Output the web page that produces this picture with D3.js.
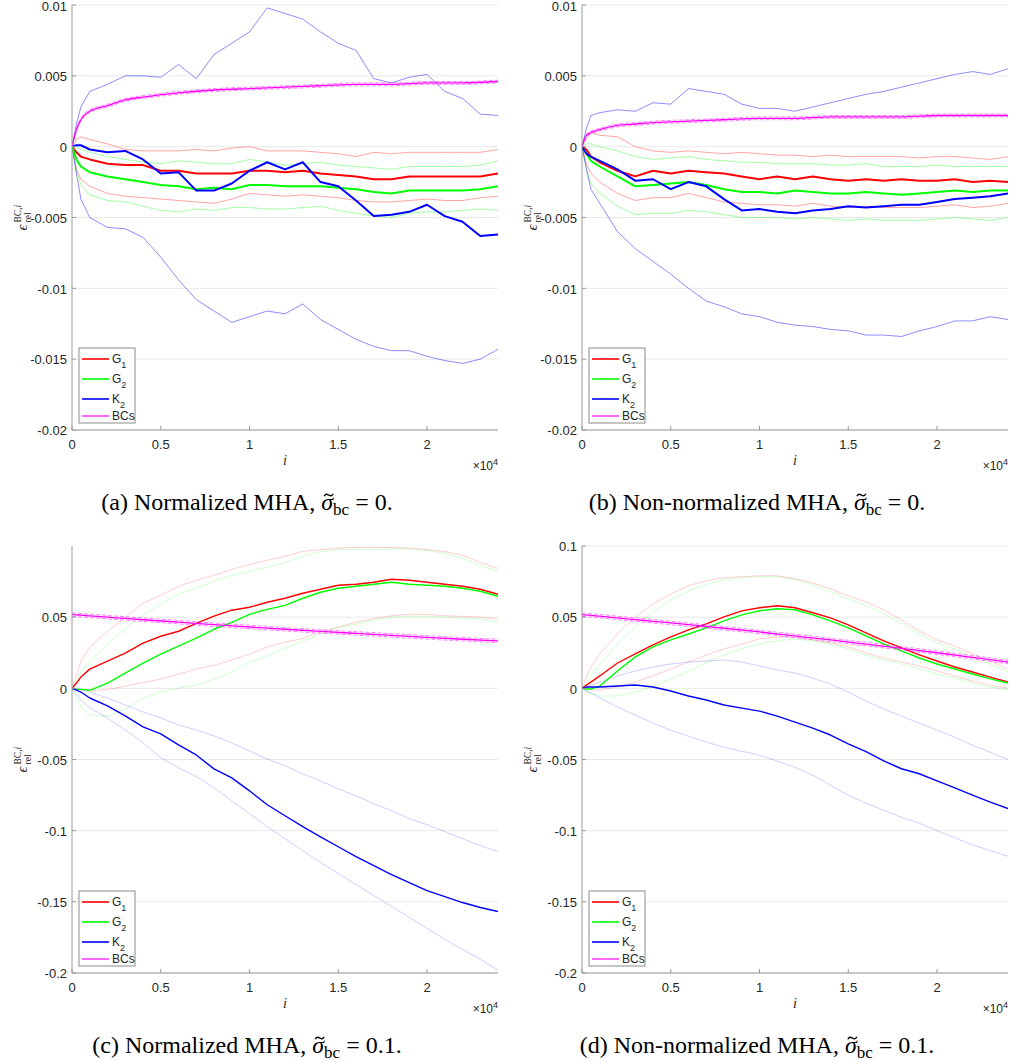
<!DOCTYPE html>
<html><head><meta charset="utf-8">
<script src="https://cdn.jsdelivr.net/npm/d3@7"></script>
<style>body{margin:0;background:#fff;} svg{display:block;}</style>
</head><body>
<svg id="chart" width="1011" height="1061"></svg>
<script>
// ---------- shared axes data ----------
const iSteps = [0,250,500,1000,2000,3000,4000,5000,6000,7000,8000,9000,10000,11000,12000,13000,14000,15000,16000,17000,18000,19000,20000,21000,22000,23000,24000];
const bcSteps = [0,250,500,1000,2000,3000,4000,6000,8000,10000,12000,14000,16000,18000,20000,22000,24000];
const xTicks = [0,5000,10000,15000,20000];
const xTickLabels = ["0","0.5","1","1.5","2"];
const yTicksSmall = [-0.02,-0.015,-0.01,-0.005,0,0.005,0.01];
const yTickLabelsSmall = ["-0.02","-0.015","-0.01","-0.005","0","0.005","0.01"];
const yTicksC = [-0.2,-0.15,-0.1,-0.05,0,0.05];
const yTickLabelsC = ["-0.2","-0.15","-0.1","-0.05","0","0.05"];
const yTicksD = [-0.2,-0.15,-0.1,-0.05,0,0.05,0.1];
const yTickLabelsD = ["-0.2","-0.15","-0.1","-0.05","0","0.05","0.1"];
const legendNames = [["G","1"],["G","2"],["K","2"],["BCs",""]];
const captions = [
  ["(a) Normalized MHA, ","0."],
  ["(b) Non-normalized MHA, ","0."],
  ["(c) Normalized MHA, ","0.1."],
  ["(d) Non-normalized MHA, ","0.1."]
];

// ---------- panel (a) ----------
const aG1   = [0,-0.0004,-0.0007,-0.0009,-0.0012,-0.0013,-0.0013,-0.0017,-0.0017,-0.0019,-0.0019,-0.0019,-0.0017,-0.0017,-0.0018,-0.0017,-0.0019,-0.0020,-0.0021,-0.0023,-0.0023,-0.0021,-0.0021,-0.0021,-0.0021,-0.0021,-0.0019];
const aG1hi = [0,0.0005,0.0007,0.0005,0.0002,-0.0002,-0.0003,-0.0003,-0.0003,-0.0002,-0.0003,-0.0001,0,-0.0003,-0.0003,-0.0003,-0.0004,-0.0005,-0.0007,-0.0004,-0.0005,-0.0004,-0.0004,-0.0004,-0.0004,-0.0004,-0.0002];
const aG1lo = [0,-0.0016,-0.0023,-0.0028,-0.0033,-0.0035,-0.0036,-0.0037,-0.0038,-0.0039,-0.0040,-0.0037,-0.0033,-0.0034,-0.0035,-0.0034,-0.0035,-0.0036,-0.0038,-0.0039,-0.0039,-0.0038,-0.0037,-0.0038,-0.0038,-0.0036,-0.0035];
const aG2   = [0,-0.0009,-0.0014,-0.0018,-0.0021,-0.0023,-0.0025,-0.0027,-0.0028,-0.0030,-0.0029,-0.0030,-0.0027,-0.0027,-0.0028,-0.0028,-0.0028,-0.0029,-0.0030,-0.0032,-0.0033,-0.0031,-0.0031,-0.0031,-0.0031,-0.0030,-0.0028];
const aG2hi = [0,0,-0.0002,-0.0004,-0.0007,-0.0009,-0.0011,-0.0012,-0.0010,-0.0011,-0.0012,-0.0012,-0.0009,-0.0011,-0.0013,-0.0012,-0.0011,-0.0013,-0.0014,-0.0015,-0.0016,-0.0014,-0.0014,-0.0014,-0.0014,-0.0013,-0.0010];
const aG2lo = [0,-0.0017,-0.0027,-0.0034,-0.0038,-0.0039,-0.0042,-0.0045,-0.0046,-0.0044,-0.0045,-0.0043,-0.0043,-0.0044,-0.0044,-0.0043,-0.0042,-0.0045,-0.0047,-0.0049,-0.0050,-0.0047,-0.0046,-0.0046,-0.0045,-0.0044,-0.0045];
const aK2   = [0,0.0001,0.0001,-0.0002,-0.0004,-0.0003,-0.0009,-0.0019,-0.0018,-0.0031,-0.0031,-0.0026,-0.0017,-0.0011,-0.0016,-0.0011,-0.0025,-0.0028,-0.0038,-0.0049,-0.0048,-0.0046,-0.0041,-0.0049,-0.0053,-0.0063,-0.0062];
const aK2hi = [0,0.0016,0.0028,0.0039,0.0044,0.0050,0.0050,0.0049,0.0058,0.0048,0.0065,0.0073,0.0081,0.0098,0.0094,0.0090,0.0081,0.0073,0.0068,0.0048,0.0045,0.0049,0.0051,0.0039,0.0034,0.0023,0.0022];
const aK2lo = [0,-0.0019,-0.0037,-0.0050,-0.0057,-0.0058,-0.0064,-0.0078,-0.0094,-0.0108,-0.0116,-0.0124,-0.0120,-0.0116,-0.0118,-0.0111,-0.0122,-0.0129,-0.0136,-0.0141,-0.0144,-0.0144,-0.0148,-0.0151,-0.0153,-0.0150,-0.0143];
const aBC   = [0,0.0012,0.0019,0.0025,0.0029,0.0033,0.0035,0.0038,0.0040,0.0041,0.0042,0.0043,0.0044,0.0044,0.0045,0.0045,0.0046];
const aBChi = [0,0.0013,0.0020,0.0026,0.0030,0.0034,0.0036,0.0039,0.0041,0.0042,0.0043,0.0044,0.0045,0.0045,0.0046,0.0046,0.0047];
const aBClo = [0,0.0011,0.0018,0.0024,0.0028,0.0032,0.0034,0.0037,0.0039,0.0040,0.0041,0.0042,0.0043,0.0043,0.0044,0.0044,0.0045];

// ---------- panel (b) ----------
const bG1   = [0,-0.0002,-0.0007,-0.0011,-0.0017,-0.0021,-0.0017,-0.0019,-0.0017,-0.0018,-0.0019,-0.0021,-0.0023,-0.0021,-0.0023,-0.0021,-0.0023,-0.0024,-0.0023,-0.0024,-0.0023,-0.0024,-0.0024,-0.0023,-0.0025,-0.0024,-0.0025];
const bG1hi = [0,0.0005,0.0010,0.0008,0.0007,0,-0.0003,-0.0004,-0.0003,-0.0004,-0.0005,-0.0004,-0.0005,-0.0006,-0.0006,-0.0007,-0.0006,-0.0007,-0.0007,-0.0007,-0.0007,-0.0008,-0.0007,-0.0007,-0.0008,-0.0009,-0.0007];
const bG1lo = [0,-0.0012,-0.0019,-0.0025,-0.0033,-0.0038,-0.0036,-0.0036,-0.0033,-0.0036,-0.0039,-0.0040,-0.0041,-0.0041,-0.0042,-0.0040,-0.0042,-0.0043,-0.0042,-0.0043,-0.0043,-0.0043,-0.0042,-0.0041,-0.0043,-0.0042,-0.0040];
const bG2   = [0,-0.0005,-0.0010,-0.0014,-0.0021,-0.0028,-0.0027,-0.0026,-0.0025,-0.0027,-0.0030,-0.0032,-0.0032,-0.0033,-0.0031,-0.0032,-0.0033,-0.0033,-0.0032,-0.0033,-0.0034,-0.0033,-0.0032,-0.0031,-0.0032,-0.0031,-0.0031];
const bG2hi = [0,0.0002,0.0002,0,-0.0003,-0.0007,-0.0009,-0.0008,-0.0007,-0.0009,-0.0010,-0.0011,-0.0011,-0.0012,-0.0012,-0.0012,-0.0013,-0.0013,-0.0012,-0.0014,-0.0014,-0.0014,-0.0013,-0.0014,-0.0014,-0.0014,-0.0014];
const bG2lo = [0,-0.0016,-0.0026,-0.0033,-0.0042,-0.0048,-0.0047,-0.0047,-0.0045,-0.0046,-0.0048,-0.0050,-0.0050,-0.0050,-0.0051,-0.0050,-0.0051,-0.0052,-0.0051,-0.0052,-0.0052,-0.0052,-0.0051,-0.0050,-0.0051,-0.0052,-0.0050];
const bK2   = [0,-0.0005,-0.0007,-0.0010,-0.0016,-0.0024,-0.0023,-0.0030,-0.0025,-0.0028,-0.0037,-0.0045,-0.0044,-0.0046,-0.0047,-0.0045,-0.0044,-0.0042,-0.0043,-0.0042,-0.0041,-0.0041,-0.0039,-0.0037,-0.0036,-0.0035,-0.0033];
const bK2hi = [0,0.0013,0.0022,0.0024,0.0026,0.0025,0.0031,0.0030,0.0041,0.0039,0.0037,0.0030,0.0027,0.0027,0.0025,0.0028,0.0031,0.0034,0.0037,0.0039,0.0042,0.0045,0.0048,0.0051,0.0053,0.0051,0.0055];
const bK2lo = [0,-0.0016,-0.0030,-0.0040,-0.0060,-0.0072,-0.0081,-0.0090,-0.0100,-0.0109,-0.0113,-0.0118,-0.0120,-0.0124,-0.0126,-0.0127,-0.0129,-0.0130,-0.0133,-0.0133,-0.0134,-0.0130,-0.0127,-0.0123,-0.0123,-0.0120,-0.0122];
const bBC   = [0,0.0008,0.0010,0.0012,0.0015,0.0016,0.0017,0.0018,0.0019,0.0020,0.0020,0.0021,0.0021,0.0021,0.0022,0.0022,0.0022];
const bBChi = [0,0.0009,0.0011,0.0013,0.0016,0.0017,0.0018,0.0019,0.0020,0.0021,0.0021,0.0022,0.0022,0.0022,0.0023,0.0023,0.0023];
const bBClo = [0,0.0007,0.0009,0.0011,0.0014,0.0015,0.0016,0.0017,0.0018,0.0019,0.0019,0.0020,0.0020,0.0020,0.0021,0.0021,0.0021];

// ---------- panel (c) ----------
const cG1   = [0,0.0037,0.0079,0.0135,0.0191,0.0247,0.0317,0.0366,0.0401,0.0457,0.0507,0.0549,0.0570,0.0605,0.0633,0.0668,0.0696,0.0724,0.0731,0.0745,0.0766,0.0759,0.0745,0.0731,0.0717,0.0696,0.0661];
const cG1hi = [0,0.0100,0.0191,0.0289,0.0401,0.0500,0.0598,0.0654,0.0717,0.0759,0.0794,0.0836,0.0871,0.0899,0.0927,0.0962,0.0975,0.0985,0.0990,0.0990,0.0990,0.0985,0.0975,0.0960,0.0934,0.0885,0.0843];
const cG1lo = [0,-0.0005,-0.0010,-0.0015,-0.0010,0.0016,0.0040,0.0065,0.0100,0.0135,0.0163,0.0198,0.0240,0.0290,0.0325,0.0350,0.0395,0.0430,0.0465,0.0490,0.0510,0.0520,0.0520,0.0510,0.0505,0.0500,0.0486];
const cG2   = [0,-0.0007,-0.0007,-0.0014,0.0037,0.0107,0.0177,0.0240,0.0296,0.0352,0.0415,0.0464,0.0520,0.0555,0.0583,0.0633,0.0675,0.0703,0.0717,0.0731,0.0745,0.0731,0.0724,0.0717,0.0703,0.0682,0.0647];
const cG2hi = [0,0.0051,0.0114,0.0191,0.0311,0.0416,0.0514,0.0591,0.0661,0.0703,0.0752,0.0794,0.0822,0.0850,0.0885,0.0927,0.0962,0.0975,0.0978,0.0976,0.0980,0.0980,0.0969,0.0948,0.0913,0.0864,0.0822];
const cG2lo = [0,-0.0063,-0.0133,-0.0189,-0.0196,-0.0147,-0.0070,-0.0026,0.0002,0.0023,0.0065,0.0114,0.0184,0.0226,0.0282,0.0331,0.0381,0.0430,0.0451,0.0479,0.0500,0.0507,0.0507,0.0500,0.0493,0.0486,0.0465];
const cK2   = [0,-0.0012,-0.0026,-0.0068,-0.0124,-0.0194,-0.0271,-0.0320,-0.0397,-0.0468,-0.0566,-0.0629,-0.0720,-0.0818,-0.0895,-0.0972,-0.1043,-0.1113,-0.1183,-0.1246,-0.1309,-0.1365,-0.1421,-0.1463,-0.1505,-0.1540,-0.1568];
const cK2hi = [0,0,-0.0005,-0.0026,-0.0068,-0.0117,-0.0166,-0.0208,-0.0257,-0.0292,-0.0334,-0.0383,-0.0440,-0.0496,-0.0545,-0.0601,-0.0650,-0.0706,-0.0755,-0.0811,-0.0860,-0.0916,-0.0958,-0.1007,-0.1056,-0.1105,-0.1147];
const cK2lo = [0,-0.0040,-0.0082,-0.0138,-0.0208,-0.0292,-0.0383,-0.0488,-0.0558,-0.0621,-0.0698,-0.0790,-0.0881,-0.0972,-0.1056,-0.1140,-0.1224,-0.1301,-0.1378,-0.1455,-0.1532,-0.1609,-0.1686,-0.1763,-0.1834,-0.1904,-0.1981];
const cBC   = [0.0518,0.0516,0.0514,0.0509,0.0500,0.0491,0.0482,0.0465,0.0447,0.0431,0.0415,0.0400,0.0386,0.0372,0.0358,0.0345,0.0333];
const cBChi = [0.0530,0.0528,0.0526,0.0521,0.0512,0.0503,0.0494,0.0477,0.0459,0.0443,0.0427,0.0412,0.0398,0.0384,0.0370,0.0357,0.0345];
const cBClo = [0.0506,0.0504,0.0502,0.0497,0.0488,0.0479,0.0470,0.0453,0.0435,0.0419,0.0403,0.0388,0.0374,0.0360,0.0346,0.0333,0.0321];

// ---------- panel (d) ----------
const dG1   = [0,0.0023,0.0044,0.0087,0.0178,0.0242,0.0305,0.0361,0.0411,0.0453,0.0502,0.0544,0.0566,0.0580,0.0566,0.0531,0.0495,0.0446,0.0390,0.0333,0.0284,0.0235,0.0192,0.0150,0.0115,0.0079,0.0044];
const dG1hi = [0,0.0079,0.0150,0.0242,0.0383,0.0502,0.0594,0.0664,0.0721,0.0756,0.0777,0.0784,0.0791,0.0791,0.0770,0.0741,0.0699,0.0650,0.0608,0.0551,0.0481,0.0403,0.0340,0.0298,0.0242,0.0192,0.0136];
const dG1lo = [0,-0.0005,-0.0012,-0.0012,0.0009,0.0044,0.0087,0.0136,0.0185,0.0234,0.0277,0.0312,0.0347,0.0361,0.0361,0.0340,0.0319,0.0291,0.0249,0.0213,0.0185,0.0157,0.0122,0.0087,0.0051,0.0023,0];
const dG2   = [0,-0.0005,-0.0005,0.0016,0.0122,0.0221,0.0291,0.0340,0.0382,0.0425,0.0474,0.0516,0.0545,0.0559,0.0552,0.0516,0.0474,0.0425,0.0368,0.0312,0.0263,0.0213,0.0171,0.0136,0.0101,0.0066,0.0037];
const dG2hi = [0,0.0037,0.0086,0.0164,0.0312,0.0432,0.0537,0.0622,0.0685,0.0728,0.0763,0.0777,0.0784,0.0784,0.0763,0.0728,0.0678,0.0629,0.0580,0.0523,0.0460,0.0382,0.0319,0.0277,0.0221,0.0171,0.0114];
const dG2lo = [0,-0.0019,-0.0033,-0.0054,-0.0054,-0.0026,0.0016,0.0065,0.0122,0.0178,0.0234,0.0277,0.0312,0.0333,0.0347,0.0333,0.0312,0.0277,0.0234,0.0199,0.0171,0.0136,0.0101,0.0072,0.0037,0.0009,-0.0012];
const dK2   = [0,0.0009,0.0009,0.0009,0.0016,0.0023,0.0009,-0.0019,-0.0054,-0.0082,-0.0117,-0.0139,-0.0160,-0.0195,-0.0237,-0.0279,-0.0328,-0.0390,-0.0445,-0.0510,-0.0565,-0.0600,-0.0650,-0.0700,-0.0750,-0.0800,-0.0845];
const dK2hi = [0,0.0009,0.0023,0.0044,0.0087,0.0122,0.0150,0.0171,0.0185,0.0192,0.0199,0.0185,0.0157,0.0129,0.0108,0.0072,0.0030,-0.0026,-0.0089,-0.0146,-0.0195,-0.0244,-0.0294,-0.0343,-0.0400,-0.0450,-0.0500];
const dK2lo = [0,-0.0019,-0.0033,-0.0068,-0.0132,-0.0188,-0.0244,-0.0294,-0.0336,-0.0378,-0.0413,-0.0442,-0.0470,-0.0512,-0.0554,-0.0610,-0.0681,-0.0751,-0.0807,-0.0857,-0.0906,-0.0948,-0.1000,-0.1050,-0.1100,-0.1140,-0.1180];
const dBC   = [0.0518,0.0515,0.0512,0.0507,0.0495,0.0483,0.0471,0.0447,0.0422,0.0396,0.0368,0.0340,0.0311,0.0281,0.0250,0.0218,0.0185];
const dBChi = [0.0530,0.0527,0.0524,0.0519,0.0507,0.0495,0.0483,0.0459,0.0434,0.0408,0.0380,0.0352,0.0323,0.0293,0.0262,0.0230,0.0197];
const dBClo = [0.0506,0.0503,0.0500,0.0495,0.0483,0.0471,0.0459,0.0435,0.0410,0.0384,0.0356,0.0328,0.0299,0.0269,0.0238,0.0206,0.0173];

// ---------- layout ----------
const COLORS = {G1:"#ff0000", G2:"#00ff00", K2:"#0000ff", BC:"#ff00ff"};
const panels = [
  {left:72,  top:5,   bottom:430, yDom:[-0.02,0.01], yT:yTicksSmall, yL:yTickLabelsSmall, light:false,
   G1:[aG1,aG1hi,aG1lo], G2:[aG2,aG2hi,aG2lo], K2:[aK2,aK2hi,aK2lo], BC:[aBC,aBChi,aBClo], capX:247},
  {left:582, top:5,   bottom:430, yDom:[-0.02,0.01], yT:yTicksSmall, yL:yTickLabelsSmall, light:false,
   G1:[bG1,bG1hi,bG1lo], G2:[bG2,bG2hi,bG2lo], K2:[bK2,bK2hi,bK2lo], BC:[bBC,bBChi,bBClo], capX:757},
  {left:72,  top:546, bottom:973, yDom:[-0.2,0.1], yT:yTicksC, yL:yTickLabelsC, light:true,
   G1:[cG1,cG1hi,cG1lo], G2:[cG2,cG2hi,cG2lo], K2:[cK2,cK2hi,cK2lo], BC:[cBC,cBChi,cBClo], capX:247},
  {left:582, top:546, bottom:973, yDom:[-0.2,0.1], yT:yTicksD, yL:yTickLabelsD, light:true,
   G1:[dG1,dG1hi,dG1lo], G2:[dG2,dG2hi,dG2lo], K2:[dK2,dK2hi,dK2lo], BC:[dBC,dBChi,dBClo], capX:757}
];
const W = 426;
const svg = d3.select("#chart");
const defs = svg.append("defs");
const AX = "#9a9a9a", TXT = "#262626";
const sans = "'Liberation Sans', Arial, sans-serif";
const serif = "'Liberation Serif', 'Times New Roman', serif";

panels.forEach((p, pi) => {
  const x = d3.scaleLinear().domain([0, 24000]).range([p.left, p.left + W]);
  const y = d3.scaleLinear().domain(p.yDom).range([p.bottom, p.top]);
  const g = svg.append("g");
  const cid = "clip" + pi;
  defs.append("clipPath").attr("id", cid).append("rect")
    .attr("x", p.left).attr("y", p.top).attr("width", W).attr("height", p.bottom - p.top);

  // grid
  g.append("g").selectAll("line").data(p.yT).join("line")
    .attr("x1", p.left).attr("x2", p.left + W)
    .attr("y1", d => y(d)).attr("y2", d => y(d))
    .attr("stroke", "#e9e9e9").attr("stroke-width", 1);

  const plot = g.append("g").attr("clip-path", `url(#${cid})`);
  const line = d3.line().x((d, k) => x(iSteps[k])).y(d => y(d));
  const bcLine = d3.line().x((d, k) => x(bcSteps[k])).y(d => y(d)).curve(d3.curveMonotoneX);
  const boundOp = p.light ? 0.22 : 0.4;
  const boundOpK = p.light ? 0.22 : 0.5;
  const meanW = p.light ? 1.4 : 2;
  // bounds
  [["G1", boundOp], ["G2", boundOp], ["K2", boundOpK]].forEach(([k, op]) => {
    [1, 2].forEach(j => {
      plot.append("path").attr("d", line(p[k][j])).attr("fill", "none")
        .attr("stroke", COLORS[k]).attr("stroke-opacity", op).attr("stroke-width", 0.9)
        .attr("stroke-linejoin", "round");
    });
  });
  // means
  ["G1", "G2", "K2"].forEach(k => {
    plot.append("path").attr("d", line(p[k][0])).attr("fill", "none")
      .attr("stroke", COLORS[k]).attr("stroke-width", meanW).attr("stroke-linejoin", "round");
  });
  // BCs
  [1, 2].forEach(j => {
    plot.append("path").attr("d", bcLine(p.BC[j])).attr("fill", "none")
      .attr("stroke", COLORS.BC).attr("stroke-opacity", 0.55).attr("stroke-width", 0.9)
      .attr("stroke-dasharray", "4,2");
  });
  plot.append("path").attr("d", bcLine(p.BC[0])).attr("fill", "none")
    .attr("stroke", COLORS.BC).attr("stroke-width", 1.3);

  // axes lines
  g.append("line").attr("x1", p.left).attr("x2", p.left).attr("y1", p.top).attr("y2", p.bottom)
    .attr("stroke", AX).attr("stroke-width", 1);
  g.append("line").attr("x1", p.left).attr("x2", p.left + W).attr("y1", p.bottom).attr("y2", p.bottom)
    .attr("stroke", AX).attr("stroke-width", 1);
  // y ticks
  g.append("g").selectAll("line").data(p.yT).join("line")
    .attr("x1", p.left).attr("x2", p.left + 4).attr("y1", d => y(d)).attr("y2", d => y(d))
    .attr("stroke", AX);
  g.append("g").selectAll("text").data(p.yT).join("text")
    .attr("x", p.left - 5).attr("y", d => Math.max(y(d) + 5.2, 11))
    .attr("text-anchor", "end").attr("font-family", sans).attr("font-size", 13).attr("fill", TXT)
    .text((d, k) => p.yL[k]);
  // x ticks
  g.append("g").selectAll("line").data(xTicks).join("line")
    .attr("x1", d => x(d)).attr("x2", d => x(d)).attr("y1", p.bottom).attr("y2", p.bottom - 4)
    .attr("stroke", AX);
  g.append("g").selectAll("text").data(xTicks).join("text")
    .attr("x", d => x(d)).attr("y", p.bottom + 19)
    .attr("text-anchor", "middle").attr("font-family", sans).attr("font-size", 13).attr("fill", TXT)
    .text((d, k) => xTickLabels[k]);
  // x10^4
  const ex = g.append("text").attr("x", p.left + W).attr("y", p.bottom + 40)
    .attr("text-anchor", "end").attr("font-family", sans).attr("font-size", 12).attr("fill", TXT);
  ex.append("tspan").text("\u00d710");
  ex.append("tspan").attr("font-size", 9).attr("dy", -5).text("4");
  // x label i
  g.append("text").attr("x", p.left + W / 2).attr("y", p.bottom + 35)
    .attr("text-anchor", "middle").attr("font-family", serif).attr("font-style", "italic")
    .attr("font-size", 14).attr("fill", TXT).text("i");
  // y label
  const cy = (p.top + p.bottom) / 2 - 3;
  const yl = g.append("g").attr("transform", `translate(${p.left - 45},${cy}) rotate(-90)`);
  yl.append("text").attr("x", -16).attr("y", 0).attr("font-family", serif).attr("font-style", "italic")
    .attr("font-size", 15).attr("fill", TXT).text("\u03f5");
  const sup = yl.append("text").attr("x", -8).attr("y", -6).attr("font-family", serif)
    .attr("font-size", 9.5).attr("fill", TXT);
  sup.append("tspan").text("BC,");
  sup.append("tspan").attr("font-style", "italic").text("i");
  yl.append("text").attr("x", -8).attr("y", 3.5).attr("font-family", serif)
    .attr("font-size", 9.5).attr("fill", TXT).text("rel");

  // legend
  const lx = p.left + 7, ly = p.bottom - 82;
  const lg = g.append("g");
  lg.append("rect").attr("x", lx).attr("y", ly).attr("width", 56).attr("height", 75)
    .attr("fill", "#fff").attr("stroke", "#8c8c8c").attr("stroke-width", 1);
  const rowY = [11, 31, 51, 68];
  const keys = ["G1", "G2", "K2", "BC"];
  legendNames.forEach((nm, k) => {
    const yy = ly + rowY[k];
    lg.append("line").attr("x1", lx + 3).attr("x2", lx + 30).attr("y1", yy).attr("y2", yy)
      .attr("stroke", COLORS[keys[k]]).attr("stroke-width", k === 3 ? 1.2 : 1.6);
    const t = lg.append("text").attr("x", lx + 33).attr("y", yy + 3.5)
      .attr("font-family", sans).attr("font-size", 12).attr("fill", TXT);
    t.append("tspan").text(nm[0]);
    if (nm[1]) t.append("tspan").attr("font-size", 9).attr("dy", 5).text(nm[1]);
  });

  // caption
  const baseY = p.bottom + 80;
  const cap = svg.append("text").attr("x", p.capX).attr("y", baseY)
    .attr("text-anchor", "middle").attr("font-family", serif).attr("font-size", 24).attr("fill", "#000");
  cap.append("tspan").text(captions[pi][0]);
  cap.append("tspan").attr("font-style", "italic").text("\u03c3");
  cap.append("tspan").attr("font-size", 17).attr("dy", 5).text("bc");
  cap.append("tspan").attr("dy", -5).text(" = " + captions[pi][1]);
  // tilde accent over sigma drawn as a small path
  const idx = captions[pi][0].length;
  const ext = cap.node().getExtentOfChar(idx);
  const tx = ext.x + ext.width / 2 + 1.5, ty = baseY - 15;
  svg.append("path")
    .attr("d", `M${tx - 4.5},${ty + 1.2} C${tx - 3},${ty - 1.8} ${tx - 1.2},${ty - 0.6} ${tx},${ty} S${tx + 3},${ty + 1.8} ${tx + 4.5},${ty - 1.2}`)
    .attr("fill", "none").attr("stroke", "#000").attr("stroke-width", 1.3);
});
</script>
</body></html>
